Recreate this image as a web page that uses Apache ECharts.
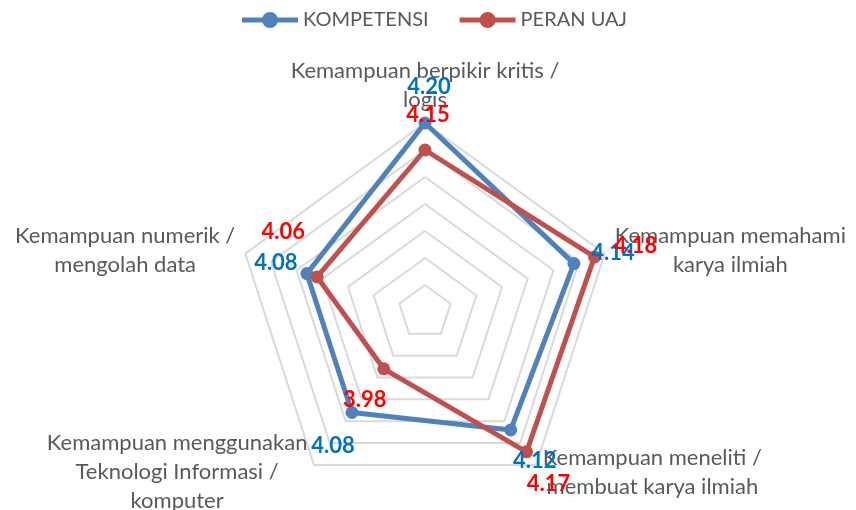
<!DOCTYPE html>
<html>
<head>
<meta charset="utf-8">
<title>Kompetensi vs Peran UAJ</title>
<script src="https://cdn.jsdelivr.net/npm/echarts@6/dist/echarts.min.js"></script>
<style>
    html, body { margin: 0; padding: 0; background: #fff; }
    #chart_container { width: 856px; height: 510px; }
</style>
</head>
<body>
<div id="chart_container"></div>
<script>
// kategori searah jarum jam, mulai dari atas (urutan seperti di Excel)
var categories = [
    'Kemampuan berpikir kritis /\nlogis',
    'Kemampuan memahami\nkarya ilmiah',
    'Kemampuan meneliti /\nmembuat karya ilmiah',
    'Kemampuan menggunakan\nTeknologi Informasi /\nkomputer',
    'Kemampuan numerik /\nmengolah data'
];
var seriesNames = ['KOMPETENSI', 'PERAN UAJ'];
var kompetensi = [4.20, 4.14, 4.12, 4.08, 4.08];
var peranUaj = [4.15, 4.18, 4.17, 3.98, 4.06];
var axisMin = 3.85, axisMax = 4.20, splitCount = 7;

// echarts radar berputar berlawanan jarum jam -> susun ulang
var order = [0, 4, 3, 2, 1];
function reorder(arr) {
    return order.map(function (i) { return arr[i]; });
}

var colors = ['#4F81BD', '#C0504D'];
var labelColors = ['#0070C0', '#FF0000'];
// geser label angka (dx, dy) per kategori, supaya mirip posisi di Excel
var labelShift = [
    [[4, -36], [39, -11], [24, 31], [-19, 33], [-31, -11]],
    [[3, -35], [41, -11], [22, 32], [-19, 31], [-34, -45]]
];

var nameFont = 22;
var ctx = document.createElement('canvas').getContext('2d');
ctx.font = nameFont + 'px Lato';

// lebar tiap nama kategori (baris terpanjang) supaya bisa rata tengah
var nameRich = {};
categories.forEach(function (c, i) {
    var w = 0;
    c.split('\n').forEach(function (l) { w = Math.max(w, ctx.measureText(l).width); });
    nameRich['n' + i] = {
        width: Math.ceil(w) + 2, align: 'center',
        color: '#595959', fontFamily: 'Lato', fontSize: nameFont, lineHeight: 29
    };
});

function valueRich(color, shifts) {
    var rich = {};
    shifts.forEach(function (s, i) {
        var dx = s[0], dy = s[1];
        rich['v' + i] = {
            color: color, fontFamily: 'Lato', fontWeight: 'bold', fontSize: 22, lineHeight: 24,
            padding: [Math.max(0, 2 * dy), Math.max(0, -2 * dx), Math.max(0, -2 * dy), Math.max(0, 2 * dx)]
        };
    });
    return rich;
}

function makeLabel(k) {
    return {
        show: true,
        position: 'inside',
        formatter: function (p) {
            var v = Number(p.value).toFixed(2);
            if (p.dimensionIndex == null) return v;
            return '{v' + order[p.dimensionIndex] + '|' + v + '}';
        },
        rich: valueRich(labelColors[k], labelShift[k])
    };
}

// ikon legend: garis + bulatan
var lineDot = 'path://M0,6h56v5H0z M20,8.5a8,8 0 1,1 16,0a8,8 0 1,1 -16,0z';

var seriesValues = [kompetensi, peranUaj];

var dom = document.getElementById('chart_container');
var myChart = echarts.init(dom);
var option = {
    animation: false,
    backgroundColor: '#fff',
    legend: {
        top: 5,
        left: 237,
        itemGap: 31,
        itemWidth: 56,
        itemHeight: 16,
        textStyle: { color: '#595959', fontFamily: 'Lato', fontSize: 20 },
        data: seriesNames.map(function (n) { return { name: n, icon: lineDot }; })
    },
    radar: {
        center: [425, 312],
        radius: 189,
        startAngle: 90,
        splitNumber: splitCount,
        shape: 'polygon',
        nameGap: 9,
        indicator: order.map(function (i) {
            return { name: categories[i], min: axisMin, max: axisMax };
        }),
        axisName: {
            formatter: function (name) {
                var i = categories.indexOf(name);
                return name.split('\n').map(function (l) {
                    return '{n' + i + '|' + l + '}';
                }).join('\n');
            },
            rich: nameRich
        },
        axisLine: { show: false },
        axisTick: { show: false },
        axisLabel: { show: false },
        splitLine: { lineStyle: { color: '#D9D9D9', width: 2 } },
        splitArea: { show: false }
    },
    series: [{
        type: 'radar',
        symbol: 'circle',
        symbolSize: 13,
        data: seriesNames.map(function (n, k) {
            return {
                name: n,
                value: reorder(seriesValues[k]),
                lineStyle: { color: colors[k], width: 5, join: 'round' },
                itemStyle: { color: colors[k] },
                label: makeLabel(k)
            };
        })
    }]
};

if (option && typeof option === 'object') {
    myChart.setOption(option, true);
}
</script>
</body>
</html>
